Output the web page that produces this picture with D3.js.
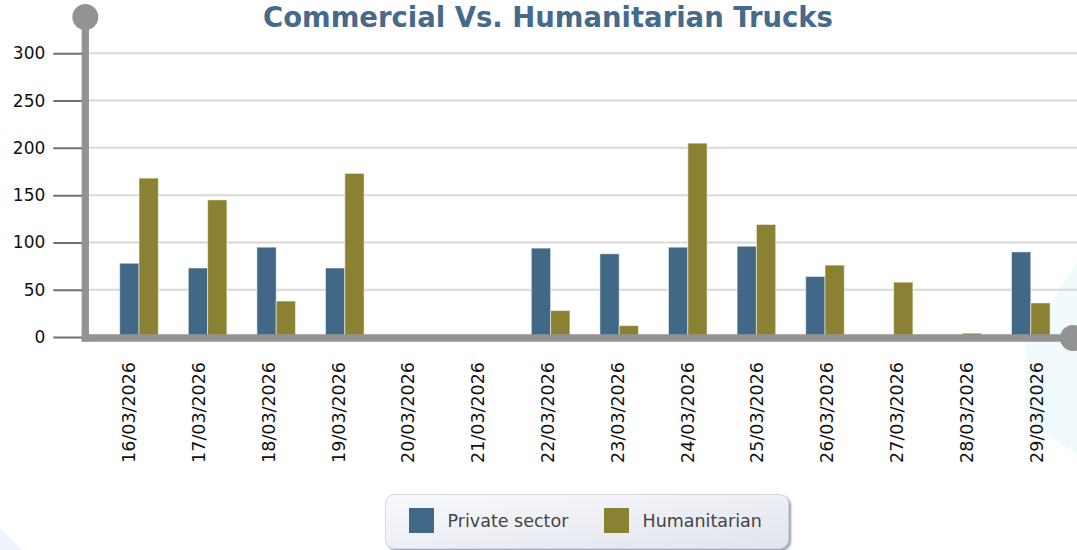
<!DOCTYPE html>
<html>
<head>
<meta charset="utf-8">
<script src="https://cdn.jsdelivr.net/npm/d3@7"></script>
<style>
  html, body { margin: 0; padding: 0; background: #ffffff; }
  svg { display: block; }
</style>
</head>
<body>
<svg id="chart" width="1077" height="550"></svg>
<script>
// Daily truck counts entering, by sector
const dates = ["16/03/2026","17/03/2026","18/03/2026","19/03/2026","20/03/2026","21/03/2026","22/03/2026",
               "23/03/2026","24/03/2026","25/03/2026","26/03/2026","27/03/2026","28/03/2026","29/03/2026"];
const privateSector = [78, 73, 95, 73, 0, 0, 94, 88, 95, 96, 64, 0, 0, 90];
const humanitarian  = [168, 145, 38, 173, 0, 0, 28, 12, 205, 119, 76, 58, 4, 36];
const seriesNames = ["Private sector", "Humanitarian"];
const seriesColors = ["#426887", "#8a8133"];
const yTicks = [0, 50, 100, 150, 200, 250, 300];
const chartTitle = "Commercial Vs. Humanitarian Trucks";

const svg = d3.select("#chart");
const W = 1077, H = 550;
const axisGrey = "#939393";

// soft background accents
svg.append("polygon")
  .attr("points", "1100,225 1026,343 1026,420 1100,470")
  .attr("fill", "#f1fafc");
svg.append("polygon")
  .attr("points", "0,528 22,550 0,550")
  .attr("fill", "#eef4fb");

const defs = svg.append("defs");
const grad = defs.append("linearGradient").attr("id", "legendFill")
  .attr("x1", "0%").attr("x2", "100%").attr("y1", "0%").attr("y2", "100%");
grad.append("stop").attr("offset", "0%").attr("stop-color", "#f8f9fb");
grad.append("stop").attr("offset", "100%").attr("stop-color", "#e2e5ef");
const shadow = defs.append("filter").attr("id", "legendShadow")
  .attr("x", "-5%").attr("y", "-20%").attr("width", "115%").attr("height", "150%");
shadow.append("feDropShadow").attr("dx", 2).attr("dy", 2).attr("stdDeviation", 1)
  .attr("flood-color", "#7d869a").attr("flood-opacity", 0.8);

// scales
const y = d3.scaleLinear().domain([0, 300]).range([337, 53.3]);
const xGroup = d3.scaleBand().domain(dates).range([104.7, 1065.1])
  .paddingInner(0.437).paddingOuter(0.2185);
const xInner = d3.scaleBand().domain(seriesNames).range([0, xGroup.bandwidth()]);
const xLabel = d3.scalePoint().domain(dates).range([93.4, 1070.6]).padding(0.5);

const axisX = 85.3, axisY = 338;

// horizontal gridlines
svg.append("g").selectAll("line").data(yTicks.filter(d => d > 0)).join("line")
  .attr("x1", 89).attr("x2", W)
  .attr("y1", d => y(d)).attr("y2", d => y(d))
  .attr("stroke", "#d8d8d8").attr("stroke-width", 2);

// y axis ticks and labels
const yAxis = svg.append("g")
  .attr("transform", `translate(${axisX},0)`)
  .call(d3.axisLeft(y).tickValues(yTicks).tickSize(32).tickPadding(8));
yAxis.select(".domain").remove();
yAxis.selectAll(".tick line").attr("stroke", "#707070").attr("stroke-width", 2);
yAxis.selectAll(".tick text")
  .attr("font-family", "'DejaVu Sans', sans-serif")
  .attr("font-size", 17).attr("fill", "#111");

// bars
const rows = dates.map((d, i) => ({ date: d, values: [privateSector[i], humanitarian[i]] }));
svg.append("g").selectAll("g").data(rows).join("g")
  .attr("transform", d => `translate(${xGroup(d.date)},0)`)
  .selectAll("rect")
  .data(d => d.values.map((v, k) => ({ key: seriesNames[k], value: v, color: seriesColors[k] })))
  .join("rect")
  .filter(d => d.value > 0)
  .attr("x", d => xInner(d.key))
  .attr("width", xInner.bandwidth())
  .attr("y", d => y(d.value))
  .attr("height", d => y(0) - y(d.value))
  .attr("fill", d => d.color)
  .attr("stroke", "rgba(255,255,240,0.55)")
  .attr("stroke-width", 1);

// x axis date labels (rotated)
const xAxis = svg.append("g")
  .attr("transform", `translate(0,${axisY})`)
  .call(d3.axisBottom(xLabel).tickSize(0));
xAxis.select(".domain").remove();
xAxis.selectAll(".tick text")
  .attr("transform", "rotate(-90)")
  .attr("text-anchor", "end")
  .attr("x", -24).attr("y", 0).attr("dy", "0.36em")
  .attr("font-family", "'DejaVu Sans', sans-serif")
  .attr("font-size", 17.5).attr("fill", "#111");

// thick axis lines with round end caps
svg.append("line")
  .attr("x1", axisX).attr("x2", axisX).attr("y1", 17).attr("y2", axisY + 3.5)
  .attr("stroke", axisGrey).attr("stroke-width", 7.3);
svg.append("line")
  .attr("x1", axisX - 3.6).attr("x2", 1073).attr("y1", axisY).attr("y2", axisY)
  .attr("stroke", axisGrey).attr("stroke-width", 7.3);
svg.append("circle").attr("cx", axisX).attr("cy", 17).attr("r", 13).attr("fill", axisGrey);
svg.append("circle").attr("cx", 1073).attr("cy", axisY).attr("r", 13).attr("fill", axisGrey);

// title, fitted to its width
const title = svg.append("text")
  .attr("x", 548).attr("y", 27)
  .attr("text-anchor", "middle")
  .attr("font-family", "'DejaVu Sans', sans-serif")
  .attr("font-weight", "bold")
  .attr("font-size", 27)
  .attr("fill", "#456a8b")
  .text(chartTitle);
const tw = title.node().getComputedTextLength();
title.attr("font-size", 27 * 570 / tw);

// legend
const legend = svg.append("g");
legend.append("rect")
  .attr("x", 385.5).attr("y", 494.5).attr("width", 403).attr("height", 54).attr("rx", 9)
  .attr("fill", "url(#legendFill)")
  .attr("stroke", "#d3d8e2").attr("stroke-width", 1)
  .attr("filter", "url(#legendShadow)");
const legendX = [409, 604];
const items = legend.selectAll("g.item").data(seriesNames).join("g")
  .attr("class", "item")
  .attr("transform", (d, i) => `translate(${legendX[i]},508)`);
items.append("rect").attr("width", 25).attr("height", 25)
  .attr("fill", (d, i) => seriesColors[i]);
items.append("text")
  .attr("x", 38.5).attr("y", 12.5).attr("dy", "0.36em")
  .attr("font-family", "'DejaVu Sans', sans-serif")
  .attr("font-size", 17.5).attr("fill", "#444")
  .text(d => d);
</script>
</body>
</html>
